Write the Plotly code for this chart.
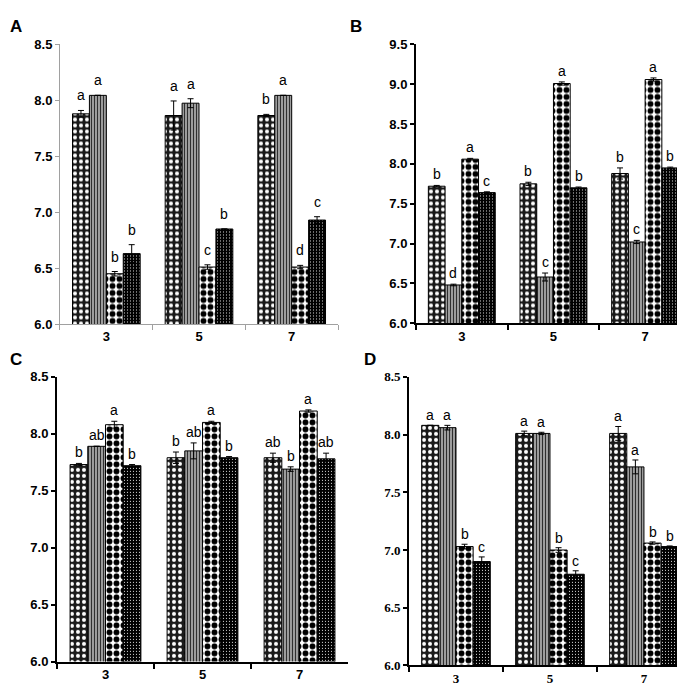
import plotly.graph_objects as go

days = ["3", "5", "7"]

# means per series (rows) over days 3, 5, 7 (columns)
a_mean = [[7.88, 7.865, 7.865], [8.045, 7.975, 8.045], [6.45, 6.51, 6.51], [6.63, 6.85, 6.93]]
a_err = [[0.03, 0.13, 0.01], [0.0, 0.04, 0.0], [0.02, 0.02, 0.015], [0.08, 0.0, 0.03]]
a_let = [["a", "a", "b"], ["a", "a", "a"], ["b", "c", "d"], ["b", "b", "c"]]

b_mean = [[7.72, 7.75, 7.88], [6.48, 6.58, 7.02], [8.06, 9.01, 9.06], [7.64, 7.70, 7.95]]
b_err = [[0.01, 0.02, 0.07], [0.01, 0.05, 0.02], [0.01, 0.02, 0.02], [0.01, 0.01, 0.01]]
b_let = [["b", "b", "b"], ["d", "c", "c"], ["a", "a", "a"], ["c", "b", "b"]]

c_mean = [[7.73, 7.79, 7.79], [7.89, 7.85, 7.69], [8.08, 8.10, 8.20], [7.72, 7.79, 7.78]]
c_err = [[0.01, 0.05, 0.04], [0.0, 0.07, 0.02], [0.03, 0.01, 0.01], [0.01, 0.01, 0.05]]
c_let = [["b", "b", "ab"], ["ab", "ab", "b"], ["a", "a", "a"], ["b", "b", "ab"]]

d_mean = [[8.08, 8.01, 8.01], [8.06, 8.01, 7.72], [7.03, 7.00, 7.06], [6.90, 6.79, 7.03]]
d_err = [[0.0, 0.02, 0.06], [0.02, 0.01, 0.06], [0.02, 0.02, 0.01], [0.04, 0.03, 0.005]]
d_let = [["a", "a", "a"], ["a", "a", "a"], ["b", "b", "b"], ["c", "c", "b"]]

patterns = [
    dict(shape=".", bgcolor="#1a1a1a", fgcolor="white", fgopacity=1, size=6, solidity=0.35),
    dict(shape="|", bgcolor="#b4b4b4", fgcolor="#2e2e2e", fgopacity=1, size=3, solidity=0.45),
    dict(shape=".", bgcolor="white", fgcolor="black", fgopacity=1, size=7, solidity=0.55),
    dict(shape=".", bgcolor="black", fgcolor="white", fgopacity=1, size=3, solidity=0.12),
]

BARGAP = 0.27
bar_w = (1 - BARGAP) / 4

panels = [
    ("A", a_mean, a_err, a_let, [0.0759, 0.4818], [0.5387, 0.956], [6, 8.5], "#a0a0a0", 1, "Liberation Sans", 5),
    ("B", b_mean, b_err, b_let, [0.5956, 0.997], [0.540, 0.956], [6, 9.5], "black", 2, "Liberation Sans", 1),
    ("C", c_mean, c_err, c_let, [0.0715, 0.4964], [0.035, 0.4599], [6, 8.5], "black", 2, "Liberation Sans", 1),
    ("D", d_mean, d_err, d_let, [0.5854, 0.997], [0.0292, 0.4599], [6, 8.5], "black", 2, "Liberation Serif", 0),
]

fig = go.Figure()
layout = dict(width=685, height=685, margin=dict(l=0, r=0, t=0, b=0),
              plot_bgcolor="white", paper_bgcolor="white", showlegend=False,
              barmode="group", bargap=BARGAP, bargroupgap=0)
annotations = []
letter_pos = [(0.0, 1.0), (0.497, 1.0), (0.0, 0.503), (0.517, 0.503)]

for k, (name, means, errs, lets, xdom, ydom, yr, axcol, axw, fam, gap) in enumerate(panels):
    xa = "x" if k == 0 else "x%d" % (k + 1)
    ya = "y" if k == 0 else "y%d" % (k + 1)
    for j in range(4):
        fig.add_trace(go.Bar(
            x=days, y=means[j], xaxis=xa, yaxis=ya,
            marker=dict(color="white", pattern=patterns[j], line=dict(color="black", width=1)),
            error_y=dict(type="data", array=errs[j], color="black", thickness=1, width=3),
        ))
        for i in range(3):
            annotations.append(dict(
                x=i - (1 - BARGAP) / 2 + bar_w * (j + 0.5), y=means[j][i] + errs[j][i],
                xref=xa, yref=ya, text=lets[j][i], showarrow=False,
                yanchor="bottom", yshift=gap, font=dict(family="Liberation Sans", size=14, color="black"),
            ))
    tickfont = dict(family=fam, size=13, color="black", weight="bold")
    layout["xaxis" if k == 0 else "xaxis%d" % (k + 1)] = dict(
        domain=xdom, anchor=ya, type="category", tickson="boundaries",
        ticks="outside", ticklen=5, tickcolor=axcol, tickwidth=axw,
        showline=True, linecolor=axcol, linewidth=axw, showgrid=False,
        tickfont=tickfont, range=[-0.5, 2.5],
    )
    layout["yaxis" if k == 0 else "yaxis%d" % (k + 1)] = dict(
        domain=ydom, anchor=xa, range=yr, dtick=0.5, tickformat=".1f",
        ticks="outside", ticklen=4, tickcolor=axcol, tickwidth=axw,
        showline=True, linecolor=axcol, linewidth=axw, showgrid=False,
        zeroline=False, tickfont=tickfont,
    )
    annotations.append(dict(
        x=letter_pos[k][0], y=letter_pos[k][1], xref="paper", yref="paper",
        text="<b>%s</b>" % name, showarrow=False, xanchor="left", yanchor="top",
        font=dict(family="Liberation Sans", size=17, color="black"),
    ))

layout["annotations"] = annotations
fig.update_layout(**layout)

fig.write_html("out.html")
